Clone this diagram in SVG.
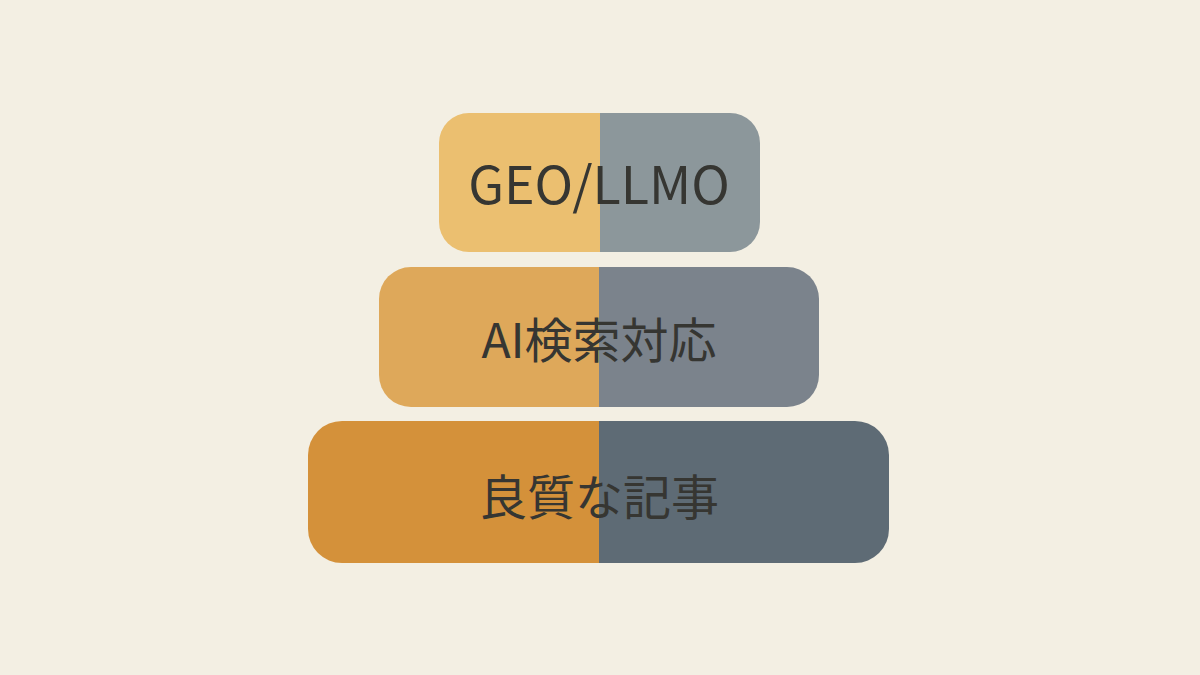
<svg xmlns="http://www.w3.org/2000/svg" width="1200" height="675" viewBox="0 0 1200 675">
<defs>
<style>
.t{font-family:"Noto Sans CJK JP","Noto Sans",sans-serif;font-weight:400;fill:#363632;text-anchor:middle}
</style>
<clipPath id="c1"><rect x="439" y="113" width="321" height="139" rx="30"/></clipPath>
<clipPath id="c2"><rect x="379" y="267" width="440" height="140" rx="32"/></clipPath>
<clipPath id="c3"><rect x="308" y="421" width="581" height="142" rx="34"/></clipPath>
</defs>
<rect width="1200" height="675" fill="#F3EFE3"/>
<g id="top">
<g clip-path="url(#c1)">
<rect x="439" y="113" width="161" height="139" fill="#EBBF70"/>
<rect x="600" y="113" width="160" height="139" fill="#8C979B"/>
</g>
<text class="t" x="599" y="204" font-size="52">GEO/LLMO</text>
</g>
<g id="middle">
<g clip-path="url(#c2)">
<rect x="379" y="267" width="220" height="140" fill="#DEA85A"/>
<rect x="599" y="267" width="220" height="140" fill="#7B838C"/>
</g>
<text class="t" x="599" y="358" font-size="48">AI検索対応</text>
</g>
<g id="bottom">
<g clip-path="url(#c3)">
<rect x="308" y="421" width="291" height="142" fill="#D4913A"/>
<rect x="599" y="421" width="290" height="142" fill="#5E6B75"/>
</g>
<text class="t" x="599" y="515" font-size="48">良質な記事</text>
</g>
<g id="connectors"/>
</svg>
